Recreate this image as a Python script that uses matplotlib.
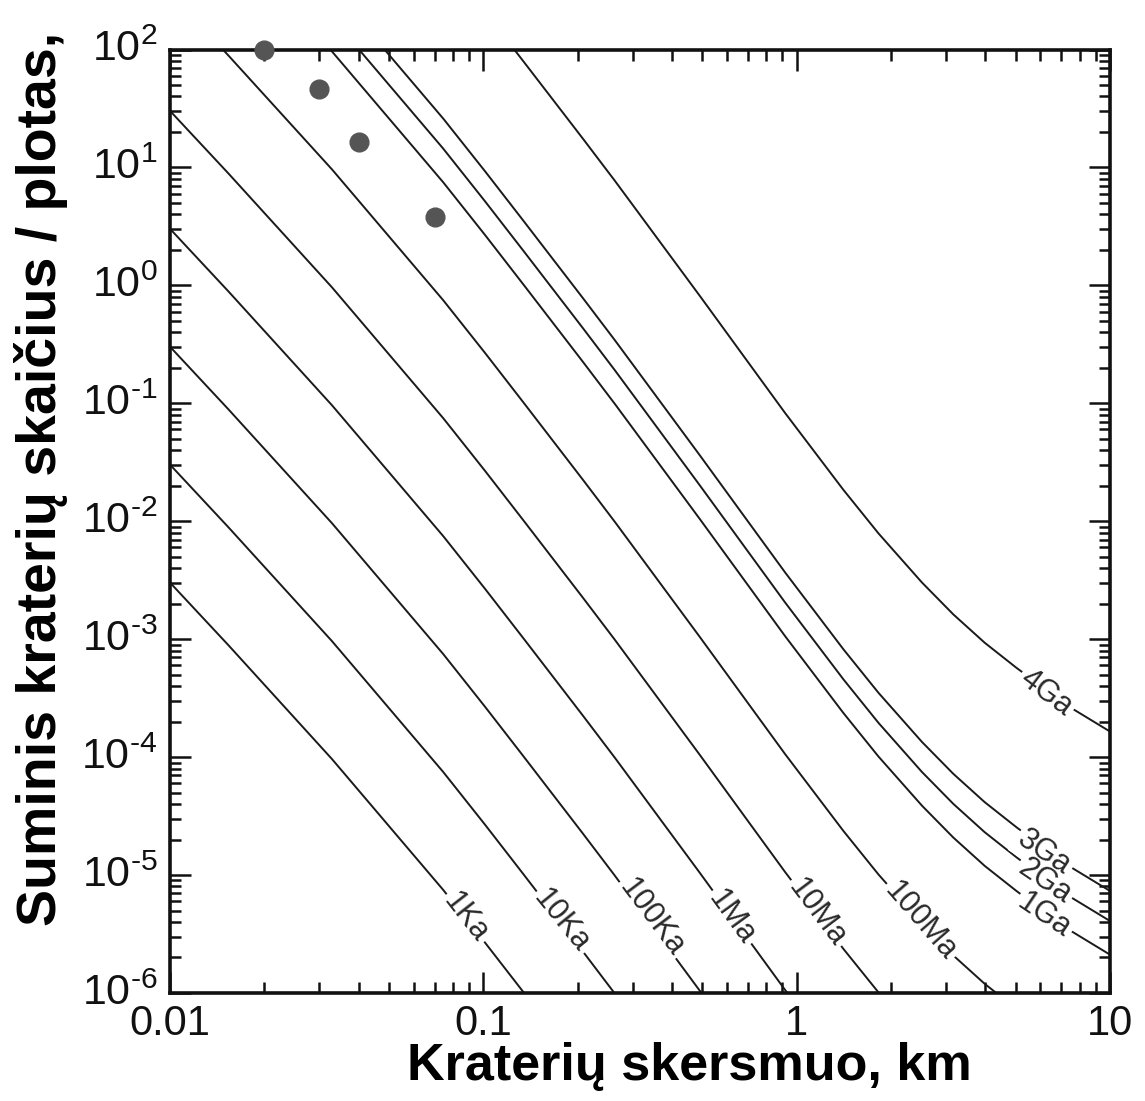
import numpy as np
import matplotlib
matplotlib.use("Agg")
import matplotlib.pyplot as plt
from matplotlib.ticker import LogLocator, FixedLocator, FixedFormatter, NullFormatter
from matplotlib.transforms import ScaledTranslation

# Production curve read from the isochrons: cumulative crater density (per km^2) for 1 Ga
base_diam_km = [0.0100, 0.01535, 0.03289, 0.07447, 0.1012, 0.1343, 0.2084, 0.2630,
                0.4920, 0.6934, 0.9183, 1.409, 1.824, 2.512, 3.162, 3.981, 5.035, 7.464, 10.0]
base_density = [3020, 891.3, 96.2, 7.482, 2.679, 1.016, 0.2228, 0.09863,
                0.01035, 0.002958, 0.001062, 2.371e-4, 1.012e-4, 3.873e-5, 2.080e-5,
                1.197e-5, 7.311e-6, 3.388e-6, 2.113e-6]

# Isochron ages and their density relative to the 1 Ga curve
ages = ['1Ka', '10Ka', '100Ka', '1Ma', '10Ma', '100Ma', '1Ga', '2Ga', '3Ga', '4Ga']
age_factor = [1e-6, 1e-5, 1e-4, 1e-3, 1e-2, 1e-1, 1.0, 1.93, 3.47, 78.0]

# Label anchor positions on each isochron (diameter, density) and angle
label_diam = [0.0881, 0.178, 0.344, 0.621, 1.159, 2.477, 6.17, 6.21, 6.17, 6.25]
label_dens = [4.37e-6, 4.07e-6, 4.37e-6, 4.4e-6, 4.8e-6, 4.07e-6, 4.54e-6, 8.9e-6, 1.55e-5, 3.47e-4]
label_rot = [-52, -51, -53, -54, -53, -49, -34, -34, -34, -37]

# Measured crater counts (dots)
obs_diam = [0.020, 0.030, 0.040, 0.070]
obs_dens = [100, 46, 16.4, 3.8]

ytick_vals = [1e-6, 1e-5, 1e-4, 1e-3, 1e-2, 1e-1, 1e0, 1e1, 1e2]
ytick_exps = ['\u20106', '\u20105', '\u20104', '\u20103', '\u20102', '\u20101', '0', '1', '2']
xtick_vals = [0.01, 0.1, 1, 10]
xtick_labels = ['0.01', '0.1', '1', '10']

plt.rcParams['font.family'] = ['Liberation Sans', 'DejaVu Sans']
plt.rcParams['mathtext.fontset'] = 'custom'
plt.rcParams['mathtext.rm'] = 'Liberation Sans'
plt.rcParams['mathtext.it'] = 'Liberation Sans'
plt.rcParams['mathtext.bf'] = 'Liberation Sans:bold'

fig = plt.figure(figsize=(11.45, 11.01), dpi=100)
ax = fig.add_axes([170/1145, 1 - 993/1101, 940/1145, 943.5/1101])

bd = np.array(base_diam_km)
bn = np.array(base_density)
for age, f in zip(ages, age_factor):
    ax.plot(bd, bn * f, color='#1a1a1a', lw=1.4, zorder=2)

# white gaps in the isochrons behind the labels, then the labels themselves on top
for age, x, y, r in zip(ages, label_diam, label_dens, label_rot):
    ax.text(x, y, age, rotation=r, rotation_mode='anchor', ha='center', va='center',
            fontsize=22, color=(1, 1, 1, 0), zorder=3,
            bbox=dict(boxstyle='square,pad=0.1', facecolor='white', edgecolor='none'))
for age, x, y, r in zip(ages, label_diam, label_dens, label_rot):
    ax.text(x, y, age, rotation=r, rotation_mode='anchor', ha='center', va='center',
            fontsize=22, color='#2a2a2a', zorder=4)

ax.plot(obs_diam, obs_dens, 'o', color='#555555', markersize=13.5, clip_on=False, zorder=6)

ax.set_xscale('log')
ax.set_yscale('log')
ax.set_xlim(0.01, 10)
ax.set_ylim(1e-6, 1e2)

ax.xaxis.set_major_locator(FixedLocator(xtick_vals))
ax.xaxis.set_major_formatter(FixedFormatter(xtick_labels))
ax.xaxis.set_minor_locator(LogLocator(base=10, subs=np.arange(2, 10), numticks=20))
ax.xaxis.set_minor_formatter(NullFormatter())
ax.yaxis.set_major_locator(FixedLocator(ytick_vals))
ax.yaxis.set_major_formatter(FixedFormatter([r'$\mathregular{10^{%s}}$' % e for e in ytick_exps]))
ax.yaxis.set_minor_locator(LogLocator(base=10, subs=np.arange(2, 10), numticks=20))
ax.yaxis.set_minor_formatter(NullFormatter())

ax.tick_params(which='both', direction='in', top=True, right=True, width=1.8, colors='#111111')
ax.tick_params(which='major', length=15)
ax.tick_params(which='minor', length=8)
ax.tick_params(axis='x', which='major', labelsize=30, pad=8)
ax.tick_params(axis='y', which='major', labelsize=31, pad=9)
for sp in ax.spines.values():
    sp.set_linewidth(2.6)
    sp.set_color('#111111')

# lift the y tick labels slightly, as in the reference
lift = ScaledTranslation(0, 4 / 100, fig.dpi_scale_trans)
for lbl in ax.yaxis.get_majorticklabels():
    lbl.set_transform(lbl.get_transform() + lift)

ax.set_xlabel('Kraterių skersmuo, km', fontsize=37.5, fontweight='bold')
ax.set_ylabel('Suminis kraterių skaičius / plotas,', fontsize=40, fontweight='bold')
ax.xaxis.set_label_coords(0.553, -0.052)
ax.yaxis.set_label_coords(-0.108, 0.545)

fig.savefig('out.png', dpi=100, facecolor='white')
